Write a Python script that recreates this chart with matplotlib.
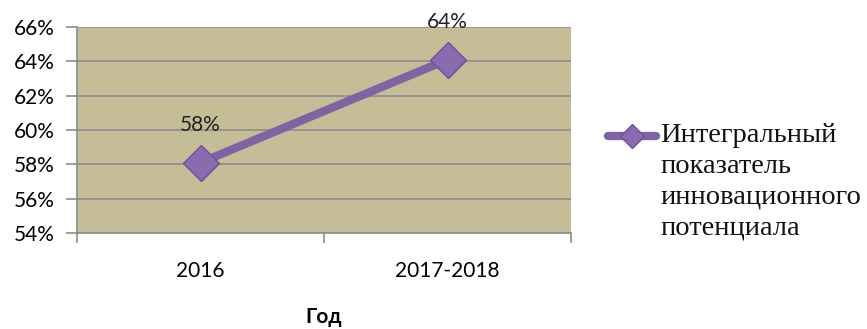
import matplotlib.pyplot as plt
from matplotlib.lines import Line2D

# Данные
годы = ['2016', '2017-2018']
значения = [0.581, 0.641]
подпись_ряда = 'Интегральный\nпоказатель\nинновационного\nпотенциала'

фиолетовый = '#8064A2'

fig = plt.figure(figsize=(8.67, 3.29), dpi=100)
ax = fig.add_axes([77 / 867, 1 - 233 / 329, (571 - 77) / 867, (233 - 27) / 329])
ax.set_facecolor('#C4BD97')

x = [0.5, 1.5]
ax.plot(x, значения, color=фиолетовый, linewidth=6, solid_capstyle='round',
        marker='D', markersize=18, markerfacecolor='#8a6bb0',
        markeredgecolor='#6b5290', markeredgewidth=1, zorder=3)

# Подписи значений над точками
for xi, v in zip(x, значения):
    ax.annotate(f'{v:.0%}', (xi, v), xytext=(0, 27), textcoords='offset points',
                ha='center', va='center', fontsize=15, family='Lato', color='#222222')

ax.set_xlim(0, 2)
ax.set_ylim(0.54, 0.66)
ax.set_yticks([0.54, 0.56, 0.58, 0.60, 0.62, 0.64, 0.66])
ax.set_yticklabels([f'{t:.0%}' for t in ax.get_yticks()], fontsize=15, family='Lato')
ax.yaxis.grid(True, color='#8c8c8c', linewidth=1.2)
ax.set_axisbelow(True)

ax.set_xticks([0, 1, 2])
ax.set_xticklabels([])
ax.set_xticks(x, minor=True)
ax.set_xticklabels(годы, minor=True, fontsize=15, family='Lato')
ax.tick_params(axis='x', which='minor', length=0, pad=20)
ax.tick_params(axis='x', which='major', length=7, color='#8c8c8c', width=1.2)
ax.tick_params(axis='y', length=8, color='#8c8c8c', width=1.2, pad=8)

for side in ['top', 'right']:
    ax.spines[side].set_visible(False)
for side in ['left', 'bottom']:
    ax.spines[side].set_color('#8c8c8c')
    ax.spines[side].set_linewidth(1.2)

ax.set_xlabel('Год', fontsize=15, fontweight='bold', family='Lato', labelpad=19)

# Легенда справа: значок ряда и подпись
значок = Line2D([608 / 867, 656 / 867], [1 - 136 / 329] * 2, transform=fig.transFigure,
                color=фиолетовый, linewidth=6, solid_capstyle='round')
fig.add_artist(значок)
fig.add_artist(Line2D([632 / 867], [1 - 136 / 329], transform=fig.transFigure,
                      marker='D', markersize=12, markerfacecolor='#8a6bb0',
                      markeredgecolor='#6b5290', markeredgewidth=1))
fig.text(660 / 867, 1 - 123 / 329, подпись_ряда, ha='left', va='top',
         family='Liberation Serif', fontsize=20.5, linespacing=1.3, color='#111111')

fig.savefig('out.png', dpi=100)
